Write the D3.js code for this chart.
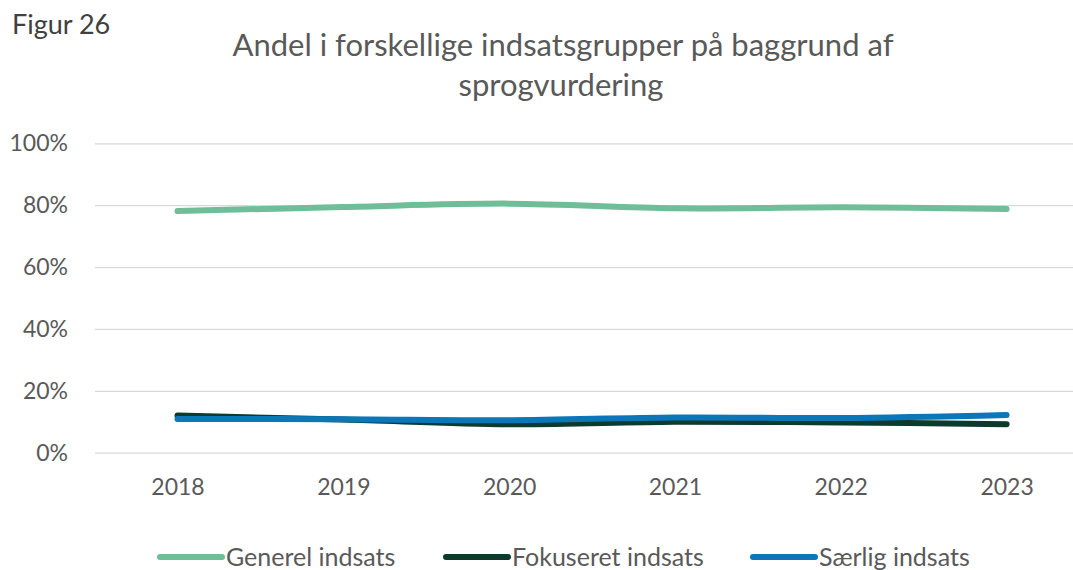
<!DOCTYPE html>
<html>
<head>
<meta charset="utf-8">
<script src="https://cdn.jsdelivr.net/npm/d3@7"></script>
<style>
  body { margin: 0; background: #fff; }
  svg { font-family: Lato, "Open Sans", sans-serif; }
</style>
</head>
<body>
<div id="chart"></div>
<script>
const years = ["2018", "2019", "2020", "2021", "2022", "2023"];
const generel = [78.1, 79.4, 80.5, 79.0, 79.3, 78.8];
const fokuseret = [12.0, 10.7, 9.2, 10.0, 9.8, 9.2];
const saerlig = [10.9, 10.8, 10.5, 11.4, 11.2, 12.2];
const yTicks = [0, 20, 40, 60, 80, 100];

const series = [
    { name: "Generel indsats", values: generel, color: "#6fbe97" },
    { name: "Fokuseret indsats", values: fokuseret, color: "#0c3a2d" },
    { name: "Særlig indsats", values: saerlig, color: "#0b77b8" }
];

const W = 1073, H = 570;
const font = "Lato, 'Open Sans', sans-serif";

const svg = d3.select("#chart")
    .append("svg")
    .attr("width", W)
    .attr("height", H);

const x = d3.scalePoint()
    .domain(years)
    .range([94.6, 1089.5])
    .padding(0.5);

const y = d3.scaleLinear()
    .domain([0, 100])
    .range([452.7, 143.3]);

// gridlines + y labels
const yAxis = svg.append("g")
    .attr("transform", "translate(95,0)")
    .call(d3.axisLeft(y)
        .tickValues(yTicks)
        .tickSize(-(W - 95))
        .tickPadding(27)
        .tickFormat(d => d + "%"))
    .attr("font-family", font);
yAxis.select(".domain").remove();
yAxis.selectAll(".tick line").attr("stroke", "#d9d9d9").attr("stroke-width", 1.3);
yAxis.selectAll(".tick text")
    .attr("fill", "#595959")
    .style("font-size", "23px");

// x labels
const xAxis = svg.append("g")
    .attr("transform", "translate(0,452.7)")
    .call(d3.axisBottom(x).tickSize(0).tickPadding(26))
    .attr("font-family", font);
xAxis.select(".domain").remove();
xAxis.selectAll(".tick text")
    .attr("fill", "#595959")
    .style("font-size", "23px");

const line = d3.line()
    .x((d, i) => x(years[i]))
    .y(d => y(d))
    .curve(d3.curveCatmullRom);

svg.selectAll(".series")
    .data(series)
    .enter()
    .append("path")
    .attr("class", "series")
    .attr("fill", "none")
    .attr("stroke", d => d.color)
    .attr("stroke-width", 6)
    .attr("stroke-linecap", "round")
    .attr("stroke-linejoin", "round")
    .attr("d", d => line(d.values));

// titles
svg.append("text")
    .attr("x", 12)
    .attr("y", 34)
    .attr("fill", "#404040")
    .style("font-size", "27px")
    .text("Figur 26");

const title = svg.append("text")
    .attr("text-anchor", "middle")
    .attr("fill", "#595959")
    .style("font-size", "31px");
title.append("tspan").attr("x", 563).attr("y", 56)
    .text("Andel i forskellige indsatsgrupper på baggrund af");
title.append("tspan").attr("x", 561).attr("y", 96)
    .text("sprogvurdering");

// legend
const legendX = [157, 443, 750];
const legend = svg.selectAll(".legend")
    .data(series)
    .enter()
    .append("g")
    .attr("class", "legend")
    .attr("transform", (d, i) => `translate(${legendX[i]},557)`);

legend.append("line")
    .attr("x1", 3).attr("x2", 65)
    .attr("stroke", d => d.color)
    .attr("stroke-width", 6)
    .attr("stroke-linecap", "round");

legend.append("text")
    .attr("x", 69)
    .attr("y", 9)
    .attr("fill", "#595959")
    .style("font-size", "25px")
    .text(d => d.name);
</script>
</body>
</html>
